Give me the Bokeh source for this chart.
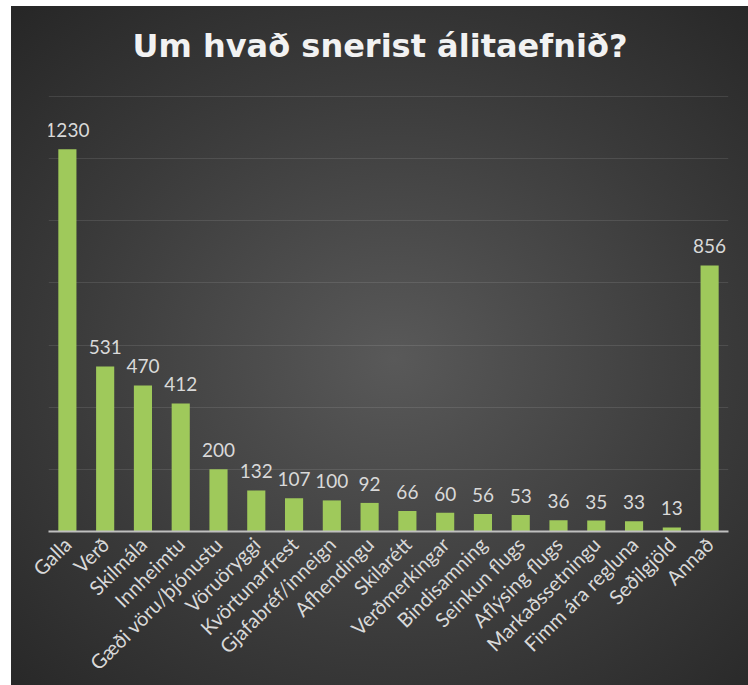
import math
from bokeh.plotting import figure
from bokeh.models import ColumnDataSource, FactorRange, Range1d, SingleIntervalTicker
from bokeh.core.properties import value
from bokeh.embed import file_html
from bokeh.resources import INLINE

categories = ["Galla", "Verð", "Skilmála", "Innheimtu", "Gæði vöru/þjónustu",
              "Vöruöryggi", "Kvörtunarfrest", "Gjafabréf/inneign", "Afhendingu",
              "Skilarétt", "Verðmerkingar", "Bindisamning", "Seinkun flugs",
              "Aflýsing flugs", "Markaðssetningu", "Fimm ára regluna",
              "Seðilgjöld", "Annað"]
counts = [1230, 531, 470, 412, 200, 132, 107, 100, 92, 66, 60, 56, 53, 36, 35, 33, 13, 856]
count_labels = [str(v) for v in counts]
title_text = "Um hvað snerist álitaefnið?"

source = ColumnDataSource(data=dict(cat=categories, n=counts, lbl=count_labels))

p = figure(
    x_range=FactorRange(*categories),
    y_range=Range1d(0, 1441.5),
    width=737, height=679,
    output_backend="svg", toolbar_location=None,
    min_border_left=37, min_border_right=20, min_border_top=74, min_border_bottom=154,
    margin=(6, 0, 0, 11),
)
p.styles = {"background": "radial-gradient(ellipse 75% 70% at 52% 52%, #595959 0%, #3a3a3a 60%, #272727 100%)"}
p.border_fill_alpha = 0
p.background_fill_alpha = 0
p.outline_line_color = None

p.title.text = title_text
p.title.text_font = "DejaVu Sans"
p.title.text_font_style = "bold"
p.title.text_font_size = "32px"
p.title.text_color = "#f2f2f2"
p.title.align = "left"
p.title.standoff = 37
p.title.offset = 84

p.vbar(x="cat", top="n", width=0.48, source=source, fill_color="#9fc95b", line_color=None)
p.text(x="cat", y="n", text="lbl", source=source, text_align="center", text_baseline="bottom",
       y_offset=-12, text_font=value("Lato"), text_font_size="19px", text_color="#d9d9d9")

p.yaxis.visible = False
p.ygrid.ticker = SingleIntervalTicker(interval=200)
p.ygrid.grid_line_color = "#ffffff"
p.ygrid.grid_line_alpha = 0.1
p.xgrid.grid_line_color = None

ax = p.xaxis[0]
ax.axis_line_color = "#bfbfbf"
ax.axis_line_width = 2
ax.major_tick_line_color = None
ax.minor_tick_line_color = None
ax.major_label_orientation = math.pi / 4
ax.major_label_text_font = "Lato"
ax.major_label_text_font_size = "20px"
ax.major_label_text_color = "#d9d9d9"
ax.major_label_standoff = 3

open("out.html", "w").write(file_html(p, INLINE))
